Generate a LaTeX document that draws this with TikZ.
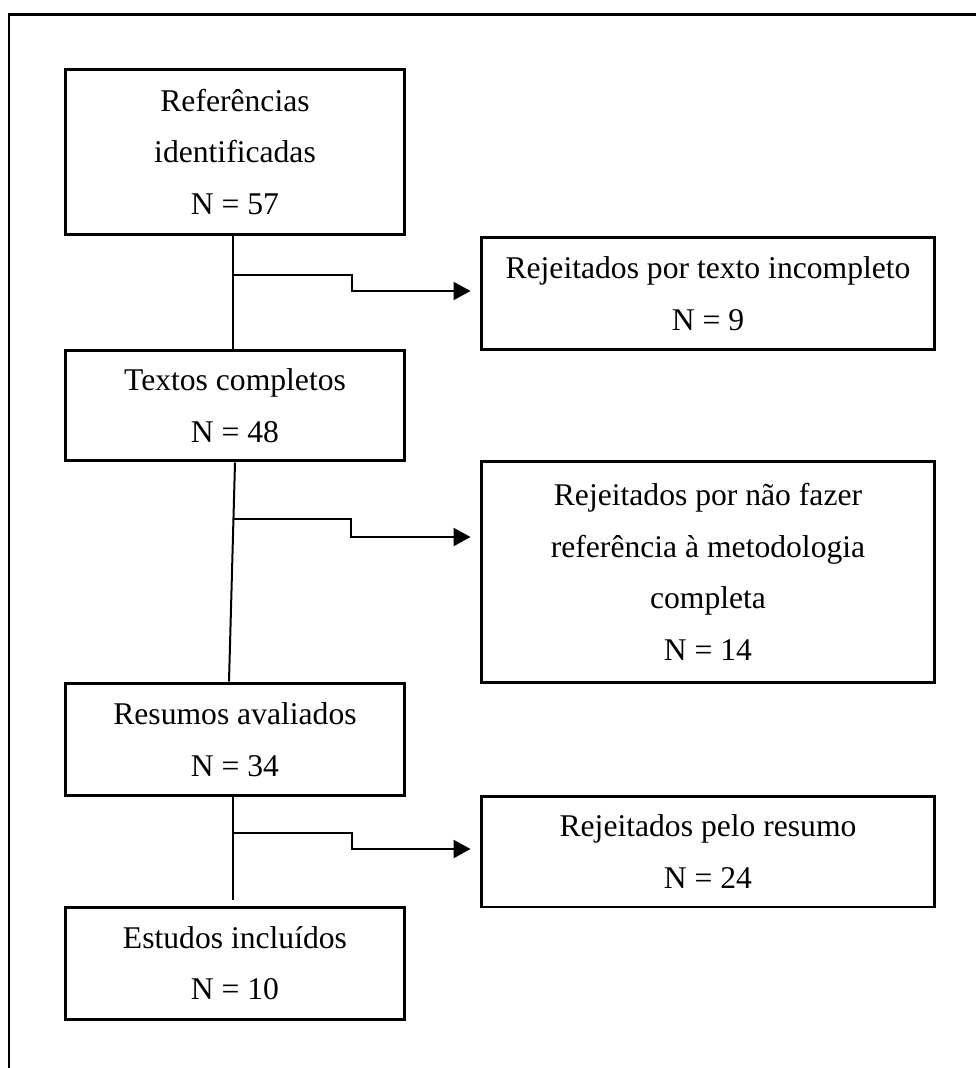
\documentclass[tikz,border=0pt]{standalone}
\usepackage{fontspec}
\setmainfont{Liberation Serif}
\usetikzlibrary{arrows.meta,calc}
\begin{document}
\begin{tikzpicture}[x=0.02cm,y=-0.02cm, % fluxo de selecao dos estudos
    caixa/.style={draw,line width=0.06cm,inner sep=0pt,align=center,font=\fontsize{18}{29.4}\selectfont},
    esq/.style={caixa,minimum width=6.8cm},
    dir/.style={caixa,minimum width=9.08cm},
    liga/.style={line width=0.04cm},
    seta/.style={liga,-{Triangle[length=0.34cm,width=0.36cm]},shorten >=0.18cm}]
  \useasboundingbox (0,0) rectangle (976,1068);
  \draw[line width=0.06cm] (9,1068) -- (9,15) -- (976,15);

  \node[esq,minimum height=3.32cm] (ref) at (235,152) {Referências\\identificadas\\N = 57};
  \node[dir,minimum height=2.26cm] (rej1) at (708,293.5) {Rejeitados por texto incompleto\\N = 9};
  \node[esq,minimum height=2.22cm] (txt) at (235,405.5) {Textos completos\\N = 48};
  \node[dir,minimum height=4.44cm] (rej2) at (708,572) {Rejeitados por não fazer\\referência à metodologia\\completa\\N = 14};
  \node[esq,minimum height=2.26cm] (res) at (235,739.5) {Resumos avaliados\\N = 34};
  \node[dir,minimum height=2.22cm] (rej3) at (708,851.5) {Rejeitados pelo resumo\\N = 24};
  \node[esq,minimum height=2.24cm] (inc) at (235,963) {Estudos incluídos\\N = 10};

  % tronco
  \draw[liga] ([xshift=-0.04cm]ref.south) -- ([xshift=-0.04cm]txt.north);
  \draw[liga] (txt.south) -- ([xshift=-0.12cm]res.north);
  \draw[liga] ([xshift=-0.04cm]res.south) -- ([xshift=-0.04cm,yshift=0.12cm]inc.north);

  % desvios
  \coordinate (d1) at ($([xshift=-0.04cm]ref.south)!0.34!([xshift=-0.04cm]txt.north)$);
  \coordinate (d2) at ($(txt.south)!0.26!([xshift=-0.12cm]res.north)$);
  \coordinate (d3) at ($([xshift=-0.04cm]res.south)!0.35!([xshift=-0.04cm,yshift=0.12cm]inc.north)$);
  \draw[seta] (d1) -- ++(119,0) |- ([yshift=0.05cm]rej1.west);
  \draw[seta] (d2) -- ++(118,0) |- ([yshift=0.7cm]rej2.west);
  \draw[seta] (d3) -- ++(119,0) |- ([yshift=0.05cm]rej3.west);
\end{tikzpicture}
\end{document}
